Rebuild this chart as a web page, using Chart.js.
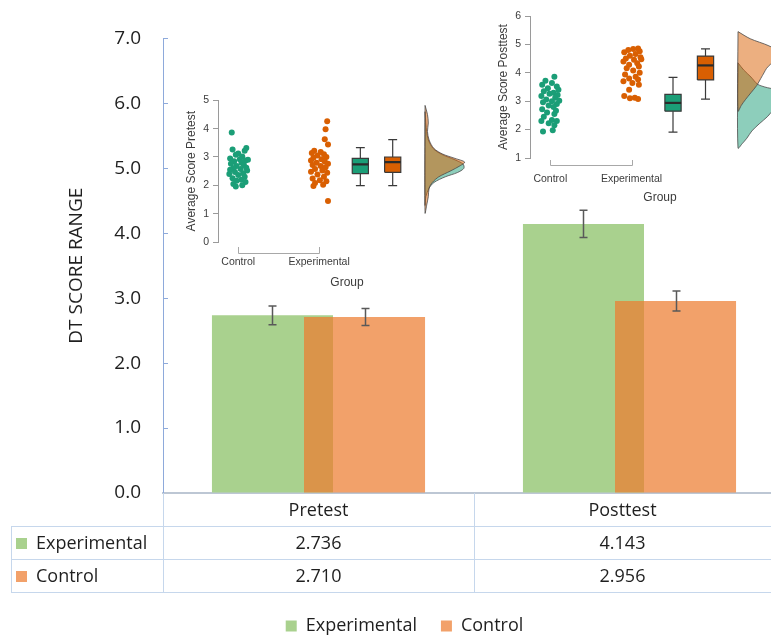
<!DOCTYPE html>
<html>
<head>
<meta charset="utf-8">
<script src="https://cdn.jsdelivr.net/npm/chart.js@4.4.0/dist/chart.umd.min.js"></script>
<style>
html, body { margin: 0; padding: 0; width: 771px; height: 637px; overflow: hidden; background: #fff; }
#wrap { position: relative; width: 771px; height: 637px; overflow: hidden; }
canvas { position: absolute; }
#main { left: 0; top: 0; }
#pre { left: 170px; top: 90px; }
#post { left: 480px; top: 0; }
</style>
</head>
<body>
<div id="wrap">
  <canvas id="main" width="800" height="645"></canvas>
  <canvas id="pre" width="310" height="200"></canvas>
  <canvas id="post" width="320" height="210"></canvas>
</div>
<script>
// main bar chart
var categories = ['Pretest', 'Posttest'];
var seriesNames = ['Experimental', 'Control'];
var experimentalMeans = [2.736, 4.143];
var controlMeans = [2.710, 2.956];
var experimentalErrors = [0.145, 0.21];
var controlErrors = [0.13, 0.155];

// raincloud insets
var groupLabels = ['Control', 'Experimental'];

var preControlScores = [3.86, 3.32, 3.26, 3.22, 3.12, 3.08, 3.02, 2.95, 2.92, 2.88, 2.85, 2.80, 2.76, 2.72, 2.68, 2.62, 2.60, 2.58, 2.52, 2.47, 2.43, 2.40, 2.36, 2.30, 2.25, 2.20, 2.16, 2.12, 2.05, 2.00, 1.96, 2.55, 2.90];
var preControlJitter = [-0.08, 0.10, -0.07, 0.08, 0.00, -0.03, 0.05, -0.10, 0.02, 0.09, -0.05, 0.04, -0.09, 0.07, -0.02, 0.10, -0.06, 0.03, 0.11, -0.04, 0.06, -0.11, 0.00, 0.08, -0.07, 0.04, -0.02, 0.09, -0.06, 0.05, -0.03, -0.10, 0.12];
var preExpScores = [4.26, 3.98, 3.63, 3.44, 3.22, 3.18, 3.14, 3.10, 3.05, 3.00, 2.97, 2.92, 2.88, 2.84, 2.80, 2.76, 2.72, 2.68, 2.64, 2.58, 2.52, 2.48, 2.44, 2.38, 2.30, 2.24, 2.18, 2.14, 2.08, 2.02, 1.98, 1.45];
var preExpJitter = [0.10, 0.08, 0.07, 0.11, -0.06, 0.02, -0.09, 0.06, -0.02, 0.09, -0.07, 0.03, -0.10, 0.07, -0.03, 0.11, -0.08, 0.02, 0.08, -0.05, 0.04, -0.10, 0.10, -0.02, 0.06, -0.08, 0.01, 0.09, -0.05, 0.05, -0.07, 0.11];
var preControlBox = [1.99, 2.41, 2.74, 2.95, 3.33]; // min, q1, median, q3, max
var preExpBox = [1.99, 2.46, 2.82, 3.00, 3.61];
var preControlDensityY = [4.6, 4.2, 3.9, 3.6, 3.3, 3.1, 2.9, 2.75, 2.6, 2.45, 2.3, 2.1, 1.9, 1.6, 1.3];
var preControlDensityW = [0, 0.01, 0.02, 0.04, 0.10, 0.20, 0.37, 0.47, 0.48, 0.40, 0.25, 0.11, 0.05, 0.01, 0];
var preExpDensityY = [4.82, 4.5, 4.2, 3.9, 3.6, 3.3, 3.1, 2.95, 2.82, 2.7, 2.5, 2.3, 2.1, 1.9, 1.6, 1.3, 1.02];
var preExpDensityW = [0, 0.03, 0.04, 0.03, 0.05, 0.11, 0.22, 0.37, 0.49, 0.44, 0.31, 0.17, 0.09, 0.05, 0.04, 0.02, 0];

var postControlScores = [3.86, 3.72, 3.64, 3.58, 3.52, 3.46, 3.40, 3.35, 3.30, 3.26, 3.22, 3.18, 3.12, 3.06, 3.00, 2.96, 2.90, 2.85, 2.80, 2.72, 2.66, 2.60, 2.55, 2.45, 2.34, 2.30, 2.30, 2.22, 2.15, 1.98, 1.93, 3.02];
var postControlJitter = [0.05, -0.06, 0.02, -0.10, 0.08, -0.03, 0.10, -0.08, 0.04, -0.01, 0.09, -0.11, 0.06, -0.05, 0.02, -0.09, 0.08, -0.02, 0.04, -0.10, 0.07, -0.04, 0.05, -0.08, 0.02, -0.11, 0.08, -0.02, 0.05, 0.03, -0.09, 0.11];
var postExpScores = [4.86, 4.84, 4.80, 4.76, 4.72, 4.66, 4.60, 4.55, 4.50, 4.46, 4.40, 4.34, 4.28, 4.22, 4.16, 4.08, 4.00, 3.94, 3.86, 3.80, 3.76, 3.70, 3.64, 3.58, 3.40, 3.18, 3.12, 3.10, 3.08, 4.48];
var postExpJitter = [0.08, 0.02, -0.04, 0.10, -0.09, 0.05, -0.02, 0.11, -0.07, 0.03, -0.10, 0.07, -0.03, 0.09, -0.06, 0.02, 0.10, -0.08, 0.05, -0.03, 0.08, -0.10, 0.01, 0.09, -0.03, -0.09, 0.04, -0.02, 0.08, 0.12];
var postControlBox = [1.91, 2.65, 2.94, 3.24, 3.84];
var postExpBox = [3.07, 3.75, 4.26, 4.59, 4.84];
var postControlDensityY = [4.35, 4.1, 3.85, 3.6, 3.5, 3.4, 3.2, 2.95, 2.7, 2.45, 2.2, 1.95, 1.7, 1.5, 1.35];
var postControlDensityW = [0, 0.07, 0.16, 0.24, 0.33, 0.46, 0.55, 0.56, 0.44, 0.36, 0.26, 0.17, 0.11, 0.05, 0];
var postExpDensityY = [5.45, 5.2, 4.95, 4.7, 4.5, 4.3, 4.15, 4.0, 3.8, 3.55, 3.3, 3.05, 2.85, 2.65];
var postExpDensityW = [0, 0.15, 0.38, 0.52, 0.50, 0.40, 0.35, 0.32, 0.28, 0.23, 0.16, 0.09, 0.04, 0];

var green = '#a9d18e';
var orange = 'rgba(237,125,49,0.72)';
var ctlColor = '#1b9e77';
var expColor = '#d95f02';
var textColor = '#1f1f1f';
var mainFont = 'Open Sans';
var insetFont = 'Liberation Sans';

// ---- main chart plugin: bar order, error bars, data table
var barExtras = {
    id: 'barExtras',
    beforeDatasetDraw: function (chart, args) {
        return false;
    },
    afterDatasetsDraw: function (chart) {
        var ctx = chart.ctx;
        var y = chart.scales.y;
        // green first, translucent orange on top
        chart.data.datasets.forEach(function (ds, i) {
            chart.getDatasetMeta(i).controller.draw();
        });
        ctx.save();
        ctx.strokeStyle = '#595959';
        ctx.lineWidth = 1.5;
        chart.data.datasets.forEach(function (ds, i) {
            var meta = chart.getDatasetMeta(i);
            ds.data.forEach(function (v, j) {
                var x = Math.round(meta.data[j].x) + 0.5;
                var top = y.getPixelForValue(v + ds.errors[j]);
                var bot = y.getPixelForValue(v - ds.errors[j]);
                ctx.beginPath();
                ctx.moveTo(x, top); ctx.lineTo(x, bot);
                ctx.moveTo(x - 4, top); ctx.lineTo(x + 4, top);
                ctx.moveTo(x - 4, bot); ctx.lineTo(x + 4, bot);
                ctx.stroke();
            });
        });
        ctx.restore();
    },
    afterDraw: function (chart) {
        var ctx = chart.ctx, a = chart.chartArea, xs = chart.scales.x;
        var rowH = 33, labelLeft = 11;
        var half = (a.right - a.left) / categories.length / 2;
        var viewRight = Math.min(a.right, window.innerWidth);
        var rows = [
            { name: seriesNames[0], values: experimentalMeans, color: green },
            { name: seriesNames[1], values: controlMeans, color: orange }
        ];
        var bottom = a.bottom + rowH * (rows.length + 1);
        ctx.save();
        ctx.strokeStyle = '#c6d7ec';
        ctx.lineWidth = 1;
        ctx.beginPath();
        for (var r = 1; r <= rows.length + 1; r++) {
            var yy = Math.round(a.bottom + rowH * r) + 0.5;
            ctx.moveTo(labelLeft, yy); ctx.lineTo(a.right, yy);
        }
        var lx = Math.round(labelLeft) + 0.5;
        ctx.moveTo(lx, a.bottom + rowH); ctx.lineTo(lx, bottom);
        var ax = Math.round(a.left) + 0.5;
        ctx.moveTo(ax, a.bottom); ctx.lineTo(ax, bottom);
        categories.forEach(function (c, i) {
            var bx = Math.round(xs.getPixelForValue(i) + half) + 0.5;
            ctx.moveTo(bx, a.bottom); ctx.lineTo(bx, bottom);
        });
        ctx.stroke();

        ctx.font = '18px "' + mainFont + '"';
        ctx.fillStyle = textColor;
        ctx.textAlign = 'center';
        ctx.textBaseline = 'middle';
        categories.forEach(function (c, i) {
            var l = xs.getPixelForValue(i) - half;
            var cx = (l + Math.min(l + 2 * half, viewRight)) / 2;
            ctx.fillText(c, cx, a.bottom + rowH / 2 + 1);
            rows.forEach(function (row, k) {
                ctx.fillText(row.values[i].toFixed(3), cx, a.bottom + rowH * (k + 1.5) + 1);
            });
        });
        ctx.textAlign = 'left';
        rows.forEach(function (row, k) {
            var yc = a.bottom + rowH * (k + 1.5);
            ctx.fillStyle = row.color;
            ctx.fillRect(labelLeft + 5, Math.round(yc - 5), 11, 11);
            ctx.fillStyle = textColor;
            ctx.fillText(row.name, labelLeft + 25, yc + 1);
        });
        ctx.restore();
    }
};

new Chart(document.getElementById('main'), {
    type: 'bar',
    data: {
        labels: categories,
        datasets: [
            { label: seriesNames[0], data: experimentalMeans, errors: experimentalErrors, backgroundColor: green, borderWidth: 0, categoryPercentage: 0.592, barPercentage: 1.315 },
            { label: seriesNames[1], data: controlMeans, errors: controlErrors, backgroundColor: orange, borderWidth: 0, categoryPercentage: 0.592, barPercentage: 1.315 }
        ]
    },
    options: {
        responsive: false,
        animation: false,
        devicePixelRatio: 1,
        events: [],
        layout: { padding: { left: 24, right: 15, top: 37, bottom: 0 } },
        plugins: {
            tooltip: { enabled: false },
            legend: {
                position: 'bottom',
                labels: { boxWidth: 11, boxHeight: 11, padding: 24, color: textColor, font: { family: mainFont, size: 18 } }
            }
        },
        scales: {
            x: {
                grid: { display: false, drawTicks: false },
                border: { display: true, color: '#bdc7d4', width: 2 },
                ticks: { display: false },
                afterFit: function (s) { s.height = 100; }
            },
            y: {
                min: 0,
                max: 7,
                ticks: {
                    stepSize: 1,
                    padding: 27,
                    color: textColor,
                    font: { family: mainFont, size: 19 },
                    callback: function (v) { return v.toFixed(1); }
                },
                grid: { drawOnChartArea: false, tickLength: -5, color: '#8eaadb' },
                border: { color: '#8eaadb', width: 1 },
                title: {
                    display: true,
                    text: 'DT SCORE RANGE',
                    color: textColor,
                    font: { family: mainFont, size: 19 },
                    padding: { top: 41, bottom: 0 }
                },
                afterFit: function (s) { s.width = 139; }
            }
        }
    },
    plugins: [barExtras]
});

// ---- raincloud insets
var boxCenters = [2.51, 2.91];
var densityBase = 3.31;
var boxHalf = 0.1;
var capHalf = 0.055;

function pointsSet(scores, jitter, center, color) {
    return {
        data: scores.map(function (s, i) { return { x: center + jitter[i], y: s }; }),
        backgroundColor: color, pointRadius: 3, pointBorderWidth: 0, showLine: false
    };
}

function boxSet(stats, center, color) {
    var lo = center - boxHalf, hi = center + boxHalf;
    return {
        data: [{ x: lo, y: stats[1] }, { x: hi, y: stats[1] }, { x: hi, y: stats[3] }, { x: lo, y: stats[3] }, { x: lo, y: stats[1] }],
        showLine: true, fill: 'shape', backgroundColor: color, borderColor: '#3a3a3a', borderWidth: 1.2, pointRadius: 0
    };
}

function medianSet(stats, center) {
    return {
        data: [{ x: center - boxHalf, y: stats[2] }, { x: center + boxHalf, y: stats[2] }],
        showLine: true, fill: false, borderColor: '#2b2b2b', borderWidth: 2.2, pointRadius: 0
    };
}

function whiskerSet(stats, center) {
    return {
        data: [
            { x: center, y: stats[3] }, { x: center, y: stats[4] }, { x: center, y: null },
            { x: center - capHalf, y: stats[4] }, { x: center + capHalf, y: stats[4] }, { x: center, y: null },
            { x: center, y: stats[1] }, { x: center, y: stats[0] }, { x: center, y: null },
            { x: center - capHalf, y: stats[0] }, { x: center + capHalf, y: stats[0] }
        ],
        showLine: true, spanGaps: false, fill: false, borderColor: '#3a3a3a', borderWidth: 1.2, pointRadius: 0
    };
}

function densitySet(levels, widths, color) {
    var pts = levels.map(function (l, i) { return { x: densityBase + widths[i], y: l }; });
    pts.push({ x: densityBase, y: levels[0] });
    return {
        data: pts, showLine: true, fill: 'shape', tension: 0.3, backgroundColor: color,
        borderColor: '#4a4a4a', borderWidth: 0.8, pointRadius: 0
    };
}

var bracket = {
    id: 'bracket',
    afterDraw: function (chart, args, opts) {
        var ctx = chart.ctx, xs = chart.scales.x, b = chart.chartArea.bottom;
        var x1 = Math.round(xs.getPixelForValue(1)) + 0.5;
        var x2 = Math.round(xs.getPixelForValue(groupLabels.length)) + 0.5;
        var yb = Math.round(b + opts.low) + 0.5;
        ctx.save();
        ctx.strokeStyle = '#a8a8a8';
        ctx.lineWidth = 1;
        ctx.beginPath();
        ctx.moveTo(x1, b + opts.high); ctx.lineTo(x1, yb); ctx.lineTo(x2, yb); ctx.lineTo(x2, b + opts.high);
        ctx.stroke();
        ctx.restore();
    }
};

function insetChart(id, cfg) {
    var inkColor = '#3c3c3c';
    return new Chart(document.getElementById(id), {
        type: 'scatter',
        data: {
            datasets: [
                densitySet(cfg.expDensity[0], cfg.expDensity[1], 'rgba(217,95,2,0.5)'),
                densitySet(cfg.ctlDensity[0], cfg.ctlDensity[1], 'rgba(27,158,119,0.5)'),
                medianSet(cfg.ctlBox, boxCenters[0]),
                medianSet(cfg.expBox, boxCenters[1]),
                boxSet(cfg.ctlBox, boxCenters[0], ctlColor),
                boxSet(cfg.expBox, boxCenters[1], expColor),
                whiskerSet(cfg.ctlBox, boxCenters[0]),
                whiskerSet(cfg.expBox, boxCenters[1]),
                pointsSet(cfg.ctlScores, cfg.ctlJitter, 1, ctlColor),
                pointsSet(cfg.expScores, cfg.expJitter, 2, expColor)
            ]
        },
        options: {
            responsive: false,
            animation: false,
            devicePixelRatio: 1,
            events: [],
            layout: { padding: cfg.padding },
            plugins: {
                legend: { display: false },
                tooltip: { enabled: false },
                bracket: cfg.bracket
            },
            scales: {
                x: {
                    type: 'linear',
                    min: 0.75,
                    max: cfg.xMax,
                    grid: { display: false, drawTicks: false },
                    border: { display: false },
                    afterBuildTicks: function (s) {
                        s.ticks = groupLabels.map(function (g, i) { return { value: i + 1 }; });
                    },
                    ticks: {
                        padding: cfg.labelPad,
                        autoSkip: false,
                        maxRotation: 0,
                        color: inkColor,
                        font: { family: insetFont, size: 10.5 },
                        callback: function (v) { return groupLabels[v - 1]; }
                    },
                    title: { display: true, text: 'Group', color: inkColor, font: { family: insetFont, size: 12 }, padding: { top: 0, bottom: 0 } },
                    afterFit: function (s) { s.height = cfg.xHeight; }
                },
                y: {
                    min: cfg.yMin,
                    max: cfg.yMin + 5,
                    ticks: { stepSize: 1, padding: 4, color: inkColor, font: { family: insetFont, size: 10.5 } },
                    grid: { drawOnChartArea: false, tickLength: 5, color: '#9a9a9a' },
                    border: { color: '#9a9a9a' },
                    title: { display: true, text: cfg.yTitle, color: inkColor, font: { family: insetFont, size: 12 }, padding: { top: 4, bottom: 0 } },
                    afterFit: function (s) { s.width = 38; }
                }
            }
        },
        plugins: [bracket]
    });
}

insetChart('pre', {
    yTitle: 'Average Score Pretest',
    yMin: 0,
    xMax: 3.94,
    padding: { left: 10, top: 10, right: 4, bottom: 0 },
    xHeight: 48,
    labelPad: 14,
    bracket: { high: 5, low: 11 },
    ctlScores: preControlScores, ctlJitter: preControlJitter,
    expScores: preExpScores, expJitter: preExpJitter,
    ctlBox: preControlBox, expBox: preExpBox,
    ctlDensity: [preControlDensityY, preControlDensityW],
    expDensity: [preExpDensityY, preExpDensityW]
});

insetChart('post', {
    yTitle: 'Average Score Posttest',
    yMin: 1,
    xMax: 3.95,
    padding: { left: 12, top: 16, right: 10, bottom: 5 },
    xHeight: 47,
    labelPad: 15,
    bracket: { high: 2, low: 7 },
    ctlScores: postControlScores, ctlJitter: postControlJitter,
    expScores: postExpScores, expJitter: postExpJitter,
    ctlBox: postControlBox, expBox: postExpBox,
    ctlDensity: [postControlDensityY, postControlDensityW],
    expDensity: [postExpDensityY, postExpDensityW]
});
</script>
</body>
</html>
